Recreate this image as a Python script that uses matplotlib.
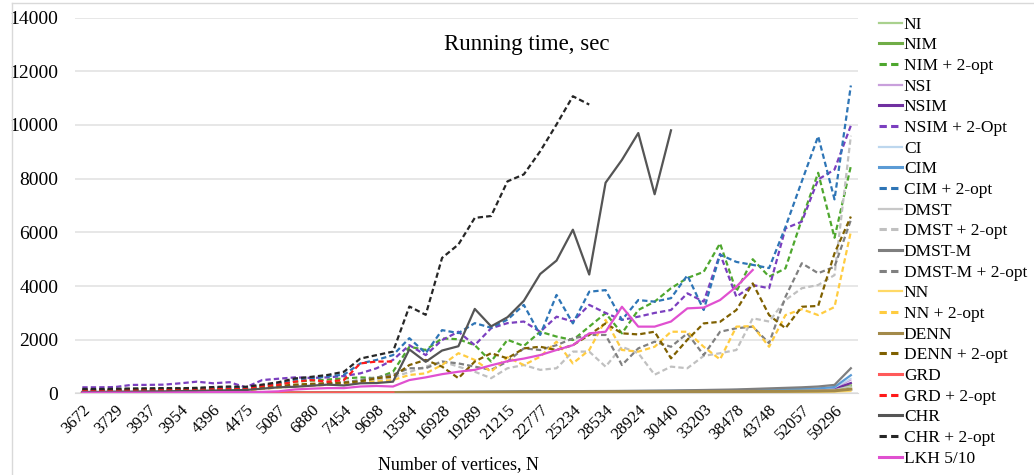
import numpy as np
import matplotlib.pyplot as plt
from matplotlib.lines import Line2D

plt.rcParams['font.family'] = ['Liberation Serif', 'DejaVu Serif']

# x categories (only every other one is labelled in the chart)
n_cat = 48
tick_labels = ['3672', '3729', '3937', '3954', '4396', '4475', '5087', '6880',
               '7454', '9698', '13584', '16928', '19289', '21215', '22777', '25234',
               '28534', '28924', '30440', '33203', '38478', '43748', '52057', '59296']

nan = np.nan

# ---- small solid series (near zero) ----
ni = [5, 5, 5, 6, 6, 6, 7, 7, 8, 9, 8, 12, 15, 18, 20, 22, 25, 28, 30, 34, 38, 40, 42, 45,
      48, 50, 52, 55, 58, 60, 62, 65, 68, 70, 72, 75, 78, 80, 85, 90, 95, 100, 105, 110,
      115, 125, 140, 250]
nim = [6, 6, 6, 7, 7, 8, 8, 9, 10, 11, 10, 14, 18, 20, 22, 25, 28, 30, 34, 38, 42, 45, 48, 50,
       52, 55, 58, 60, 62, 65, 68, 70, 72, 75, 78, 80, 85, 90, 95, 100, 105, 110, 115, 120,
       130, 140, 160, 300]
nsi = [6, 6, 7, 7, 8, 8, 9, 9, 10, 11, 10, 15, 18, 22, 24, 26, 30, 32, 36, 40, 44, 48, 50, 52,
       55, 58, 60, 62, 65, 68, 70, 72, 75, 78, 80, 85, 90, 95, 100, 105, 110, 120, 125, 130,
       140, 150, 180, 500]
nsim = [5, 5, 6, 6, 7, 7, 8, 8, 9, 10, 9, 13, 16, 20, 22, 24, 27, 30, 33, 36, 40, 44, 46, 48,
        50, 52, 55, 58, 60, 62, 65, 68, 70, 72, 75, 78, 80, 85, 90, 95, 100, 105, 110, 115,
        125, 135, 170, 390]
ci = [7, 7, 8, 8, 9, 9, 10, 10, 11, 12, 11, 16, 20, 24, 26, 28, 32, 35, 38, 42, 46, 50, 52, 55,
      58, 60, 62, 65, 68, 70, 75, 78, 80, 85, 88, 90, 95, 100, 105, 110, 120, 130, 140, 150,
      160, 175, 210, 560]
cim = [8, 8, 9, 9, 10, 10, 11, 11, 12, 13, 12, 18, 22, 26, 28, 30, 34, 38, 40, 45, 50, 52, 55, 58,
       60, 62, 65, 70, 72, 75, 80, 82, 85, 90, 92, 95, 100, 105, 110, 120, 130, 140, 150, 160,
       175, 190, 240, 680]
dmst = [4, 4, 5, 5, 5, 6, 6, 6, 7, 8, 7, 10, 12, 15, 17, 19, 21, 24, 26, 30, 33, 36, 38, 40,
        42, 45, 48, 50, 52, 55, 58, 60, 62, 65, 68, 70, 72, 75, 80, 85, 90, 95, 100, 105,
        110, 120, 140, 280]
dmst_m = [10, 10, 11, 11, 12, 12, 13, 14, 15, 16, 15, 22, 26, 30, 32, 35, 40, 42, 45, 50, 55, 58,
          60, 62, 65, 68, 70, 75, 78, 80, 85, 90, 92, 95, 100, 105, 110, 120, 130, 140, 150,
          170, 190, 210, 230, 260, 320, 940]
nn = [2, 2, 2, 2, 3, 3, 3, 3, 4, 4, 4, 5, 6, 8, 9, 10, 11, 12, 13, 15, 16, 18, 19, 20,
      21, 22, 23, 24, 25, 26, 27, 28, 29, 30, 31, 32, 33, 34, 35, 36, 38, 40, 42, 44,
      46, 48, 55, 80]
denn = [8, 8, 8, 9, 9, 9, 10, 10, 11, 12, 11, 15, 18, 22, 24, 26, 28, 30, 32, 35, 38, 40, 42, 44,
        45, 46, 48, 50, 52, 54, 55, 56, 58, 60, 62, 64, 66, 68, 70, 72, 74, 76, 78, 80,
        85, 90, 100, 160]
grd = [12, 12, 12, 12, 13, 13, 13, 14, 14, 15, 15, 16, 17, 18, 18, 19, 19, 20, 20, 21,
       nan, nan, nan, nan, nan, nan, nan, nan, nan, nan, nan, nan, nan, nan, nan, nan,
       nan, nan, nan, nan, nan, nan, nan, nan, nan, nan, nan, nan]

# ---- 2-opt series and big solids ----
nim_2opt = [150, 150, 160, 170, 180, 180, 190, 200, 210, 230, 210, 300, 360, 440, 480, 520,
            560, 600, 570, 810, 1740, 1620, 2050, 2020, 1800, 1190, 2000, 1770, 2300, 2120,
            1990, 2490, 2990, 2240, 3110, 3420, 3920, 4300, 4530, 5590, 3800, 5000, 4350,
            4660, 6480, 8220, 5800, 8470]
nsim_2opt = [230, 230, 240, 320, 320, 330, 380, 440, 380, 420, 230, 500, 550, 600, 580, 600,
             650, 750, 940, 1250, 1800, 1430, 1990, 2300, 1800, 2430, 2620, 2680, 2300, 2860,
             2680, 3300, 3000, 2740, 2860, 3000, 3110, 3730, 3420, 5200, 3600, 4040, 3920,
             6150, 6400, 7970, 8340, 9980]
cim_2opt = [130, 130, 140, 150, 160, 170, 160, 180, 200, 220, 200, 300, 380, 520, 560, 640,
            700, 1120, 1250, 1430, 2060, 1500, 2360, 2250, 2620, 2450, 2750, 3300, 2180, 3670,
            2610, 3790, 3850, 2740, 3480, 3420, 3550, 4400, 3110, 5170, 4900, 4790, 4670,
            6200, 7900, 9580, 7230, 11470]
dmst_2opt = [90, 90, 100, 100, 110, 110, 120, 120, 130, 140, 130, 180, 230, 280, 300, 350,
             400, 450, 500, 600, 800, 1000, 1190, 1000, 810, 570, 940, 1060, 880, 940, 1560,
             1560, 1000, 1740, 1500, 700, 1000, 940, 1400, 1500, 1620, 2800, 2680, 3480, 3920,
             4040, 4410, 9600]
dmst_m_2opt = [100, 100, 110, 110, 120, 120, 130, 130, 140, 150, 140, 200, 250, 300, 330, 380,
               420, 500, 600, 700, 940, 940, 1190, 1120, 1000, 880, 1190, 1680, 1620, 1800,
               2050, 2180, 2180, 1060, 1680, 1930, 1740, 2240, 1430, 2300, 2430, 2490, 1870,
               3600, 4850, 4480, 4720, 6460]
nn_2opt = [80, 80, 90, 90, 100, 100, 110, 110, 120, 130, 120, 170, 220, 260, 290, 320,
           350, 400, 450, 500, 690, 750, 1060, 1500, 1250, 810, 1350, 1060, 1370, 1930,
           1120, 1620, 2740, 1620, 1560, 1740, 2300, 2300, 1740, 1270, 2490, 2510, 1740,
           2920, 3140, 2920, 3220, 6030]
denn_2opt = [120, 120, 130, 130, 140, 140, 150, 150, 160, 170, 160, 220, 280, 330, 360, 380,
             400, 450, 570, 630, 1060, 1250, 1000, 570, 1190, 1500, 1310, 1680, 1740, 1620,
             1800, 2180, 2610, 2240, 2200, 2300, 1310, 2000, 2610, 2670, 3110, 4100, 2920,
             2430, 3230, 3260, 5220, 6590]
grd_2opt = [110, 110, 120, 120, 130, 130, 140, 140, 160, 170, 160, 280, 330, 440, 500, 440,
            500, 1120, 1190, 1190, nan, nan, nan, nan, nan, nan, nan, nan, nan, nan, nan,
            nan, nan, nan, nan, nan, nan, nan, nan, nan, nan, nan, nan, nan, nan, nan,
            nan, nan]
chr_solid = [60, 60, 70, 70, 80, 80, 90, 100, 110, 120, 130, 180, 230, 250, 290, 330, 300,
             380, 390, 440, 1640, 1180, 1600, 1760, 3150, 2500, 2840, 3450, 4450, 4950, 6100,
             4430, 7850, 8700, 9700, 7420, 9800, nan, nan, nan, nan, nan, nan, nan, nan,
             nan, nan, nan]
chr_2opt = [170, 165, 175, 185, 190, 200, 195, 210, 240, 260, 250, 330, 420, 560, 620, 690,
            810, 1300, 1430, 1560, 3240, 2930, 5050, 5550, 6540, 6610, 7900, 8160, 9020,
            10020, 11070, 10760, nan, nan, nan, nan, nan, nan, nan, nan, nan, nan, nan, nan,
            nan, nan, nan, nan]
lkh = [30, 30, 30, 30, 30, 30, 40, 40, 50, 50, 50, 60, 80, 150, 180, 200, 200, 260, 280,
       260, 500, 600, 720, 810, 880, 1050, 1200, 1300, 1430, 1620, 1800, 2240, 2300, 3230,
       2490, 2490, 2680, 3170, 3200, 3480, 3980, 4600, nan, nan, nan, nan, nan, nan]

DASH = (0, (2.4, 1.4))
series = [
    ('NI', ni, '#A9D18E', '-'),
    ('NIM', nim, '#70AD47', '-'),
    ('NIM + 2-opt', nim_2opt, '#4EA72E', DASH),
    ('NSI', nsi, '#C9A0DC', '-'),
    ('NSIM', nsim, '#7030A0', '-'),
    ('NSIM + 2-Opt', nsim_2opt, '#7B3FBF', DASH),
    ('CI', ci, '#BDD7EE', '-'),
    ('CIM', cim, '#5B9BD5', '-'),
    ('CIM + 2-opt', cim_2opt, '#2E75B6', DASH),
    ('DMST', dmst, '#C8C8C8', '-'),
    ('DMST + 2-opt', dmst_2opt, '#C0C0C0', DASH),
    ('DMST-M', dmst_m, '#7F7F7F', '-'),
    ('DMST-M + 2-opt', dmst_m_2opt, '#808080', DASH),
    ('NN', nn, '#FFD966', '-'),
    ('NN + 2-opt', nn_2opt, '#FFCC40', DASH),
    ('DENN', denn, '#A38A4A', '-'),
    ('DENN + 2-opt', denn_2opt, '#7F6000', DASH),
    ('GRD', grd, '#FF5A5A', '-'),
    ('GRD + 2-opt', grd_2opt, '#FF1A1A', DASH),
    ('CHR', chr_solid, '#555555', '-'),
    ('CHR + 2-opt', chr_2opt, '#262626', DASH),
    ('LKH 5/10', lkh, '#E050D0', '-'),
]

fig = plt.figure(figsize=(10.34, 4.75), dpi=100)
ax = fig.add_axes([0.0725, 0.1716, 0.7575, 0.7914])

x = np.arange(n_cat)
handles = []
for name, vals, col, ls in series:
    if name in ('NI', 'NSI', 'CI', 'DMST', 'NN'):
        lw = 1.0
    elif name in ('GRD', 'DENN'):
        lw = 2.2
    else:
        lw = 1.6
    ax.plot(x, vals, color=col, linestyle=ls, linewidth=lw, zorder=3)
    handles.append(Line2D([], [], color=col, linestyle=ls, linewidth=min(lw, 1.6) + 0.6))

ax.set_xlim(-0.45, n_cat - 0.55)
ax.set_ylim(0, 14000)
ax.set_yticks(range(0, 14001, 2000))
ax.set_xticks(np.arange(0, n_cat, 2))
ax.set_xticklabels(tick_labels, rotation=45, ha='right', rotation_mode='anchor', fontsize=12)
ax.tick_params(axis='both', length=0)
ax.tick_params(axis='y', pad=12, labelsize=14)
ax.tick_params(axis='x', pad=6, labelsize=12)
ax.grid(axis='y', color='#E3E3E3', linewidth=1.2, zorder=0)
ax.set_axisbelow(True)
for s in ['top', 'right', 'left']:
    ax.spines[s].set_visible(False)
ax.spines['bottom'].set_color('#D9D9D9')
ax.spines['bottom'].set_zorder(1)

ax.text(0.577, 0.955, 'Running time, sec', transform=ax.transAxes, ha='center', va='top',
        fontsize=16.5)
ax.set_xlabel('Number of vertices, N', fontsize=13, labelpad=4)
ax.xaxis.set_label_coords(0.49, -0.17)

fig.legend(handles, [s[0] for s in series], loc='upper left', bbox_to_anchor=(0.843, 0.98),
           frameon=False, fontsize=12.5, handlelength=1.35, handletextpad=0.1,
           labelspacing=0.26, borderaxespad=0)

# chart border (partially visible in the original)
fig.add_artist(Line2D([12 / 1034, 1], [1 - 3 / 475, 1 - 3 / 475], color='#D9D9D9', lw=1))
fig.add_artist(Line2D([12 / 1034, 12 / 1034], [0, 1 - 3 / 475], color='#D9D9D9', lw=1))

fig.savefig('out.png', dpi=100)
